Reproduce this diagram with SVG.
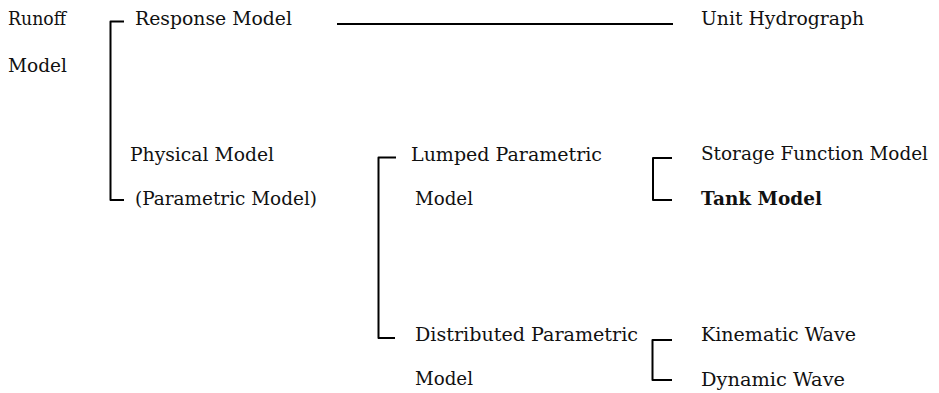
<svg xmlns="http://www.w3.org/2000/svg" width="939" height="393" viewBox="0 0 939 393">
<style>
text{font-family:"DejaVu Serif","Liberation Serif",serif;font-size:18.5px;fill:#111;}
.b{font-weight:bold;}
.br{fill:none;stroke:#000;stroke-width:2;stroke-linejoin:round;stroke-linecap:butt;}
</style>
<rect width="939" height="393" fill="#fff"/>
<g id="connectors">
<path class="br" d="M124,21.5 H110.5 V200 H124"/>
<line class="br" x1="337" y1="24" x2="673" y2="24"/>
<path class="br" d="M396,157.5 H378.5 V338 H395"/>
<path class="br" d="M672,158 H653 V200 H672"/>
<path class="br" d="M672,340 H652.5 V380 H672"/>
</g>
<g id="runoff-model"><text x="8" y="25" textLength="58" lengthAdjust="spacingAndGlyphs">Runoff</text><text x="8" y="72" textLength="59" lengthAdjust="spacingAndGlyphs">Model</text></g>
<g id="response-model"><text x="135" y="25" textLength="157" lengthAdjust="spacingAndGlyphs">Response Model</text></g>
<g id="unit-hydrograph"><text x="701" y="25" textLength="163" lengthAdjust="spacingAndGlyphs">Unit Hydrograph</text></g>
<g id="physical-model"><text x="130" y="161" textLength="144" lengthAdjust="spacingAndGlyphs">Physical Model</text><text x="135" y="205" textLength="182" lengthAdjust="spacingAndGlyphs">(Parametric Model)</text></g>
<g id="lumped"><text x="411" y="161" textLength="191" lengthAdjust="spacingAndGlyphs">Lumped Parametric</text><text x="415" y="205" textLength="58" lengthAdjust="spacingAndGlyphs">Model</text></g>
<g id="storage-function"><text x="701" y="160" textLength="227" lengthAdjust="spacingAndGlyphs">Storage Function Model</text></g>
<g id="tank-model"><text class="b" x="701" y="205" textLength="121" lengthAdjust="spacingAndGlyphs">Tank Model</text></g>
<g id="distributed"><text x="415" y="341" textLength="223" lengthAdjust="spacingAndGlyphs">Distributed Parametric</text><text x="415" y="385" textLength="58" lengthAdjust="spacingAndGlyphs">Model</text></g>
<g id="kinematic-wave"><text x="701" y="341" textLength="155" lengthAdjust="spacingAndGlyphs">Kinematic Wave</text></g>
<g id="dynamic-wave"><text x="701" y="386" textLength="144" lengthAdjust="spacingAndGlyphs">Dynamic Wave</text></g>
</svg>
